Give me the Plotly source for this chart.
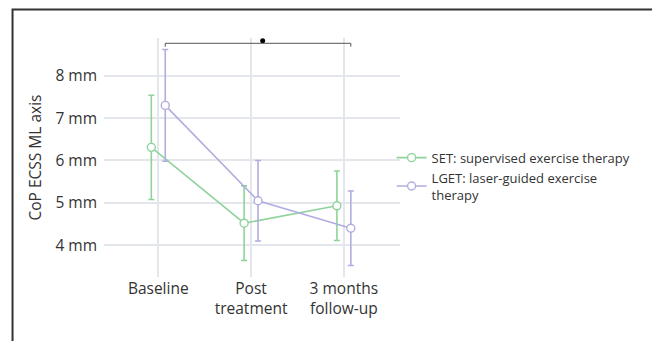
import plotly.graph_objects as go

categories = ["Baseline", "Post<br>treatment", "3 months<br>follow-up"]
set_mean = [6.31, 4.52, 4.93]
set_err = [1.23, 0.88, 0.82]
lget_mean = [7.30, 5.05, 4.40]
lget_err = [1.32, 0.95, 0.88]
y_tickvals = [4, 5, 6, 7, 8]
y_ticktext = ["4 mm", "5 mm", "6 mm", "7 mm", "8 mm"]
sig_level = 8.765
sig_dot_level = 8.825

GREEN = "#8fd39b"
PURPLE = "#b1addf"
TXT = "#333333"
FONT = "Open Sans"

idx = list(range(len(categories)))
off = 0.075
x_set = [i - off for i in idx]
x_lget = [i + off for i in idx]

fig = go.Figure()
fig.add_trace(go.Scatter(
    x=x_set, y=set_mean, mode="lines+markers",
    name="SET: supervised exercise therapy",
    line=dict(color=GREEN, width=1.6),
    marker=dict(symbol="circle", size=8, color="white", line=dict(color=GREEN, width=1.4)),
    error_y=dict(type="data", array=set_err, color=GREEN, thickness=1.6, width=3),
))
fig.add_trace(go.Scatter(
    x=x_lget, y=lget_mean, mode="lines+markers",
    name="LGET: laser-guided exercise<br>therapy",
    line=dict(color=PURPLE, width=1.6),
    marker=dict(symbol="circle", size=8, color="white", line=dict(color=PURPLE, width=1.4)),
    error_y=dict(type="data", array=lget_err, color=PURPLE, thickness=1.6, width=3),
))

# significance bracket between LGET baseline and LGET 3 months
bx0, bx1 = x_lget[0], x_lget[-1]
fig.add_shape(type="path",
              path=f"M {bx0},{sig_level-0.08} L {bx0},{sig_level} L {bx1},{sig_level} L {bx1},{sig_level-0.08}",
              xref="x", yref="y", line=dict(color="#555555", width=1))
fig.add_trace(go.Scatter(
    x=[(bx0 + bx1) / 2 + 0.05], y=[sig_dot_level], mode="markers",
    marker=dict(color="#000000", size=5), showlegend=False, hoverinfo="skip",
))

# outer frame
fig.add_shape(type="path", xref="paper", yref="paper",
              path="M -0.309,-1 L -0.309,1.119 L 2,1.119",
              line=dict(color="#333333", width=2))

fig.update_layout(
    width=652, height=333,
    margin=dict(l=96, r=260, t=30, b=64, pad=0),
    paper_bgcolor="white", plot_bgcolor="white",
    font=dict(family=FONT, size=15, color=TXT),
    showlegend=True,
    legend=dict(x=0.9716, y=0.562, xanchor="left", yanchor="top",
                font=dict(family=FONT, size=13, color=TXT),
                bgcolor="rgba(0,0,0,0)", itemwidth=30, tracegroupgap=0),
    xaxis=dict(tickmode="array", tickvals=idx, ticktext=categories,
               range=[-0.585, 2.605], showgrid=True, gridcolor="#e3e6ea", gridwidth=1.5,
               zeroline=False, showline=False, ticks="", tickfont=dict(size=15.5)),
    yaxis=dict(tickmode="array", tickvals=y_tickvals, ticktext=y_ticktext,
               range=[3.25, 8.89], showgrid=True, gridcolor="#e3e6ea", gridwidth=1.5,
               zeroline=False, showline=False, ticks="", ticklabelstandoff=6,
               title=dict(text="CoP ECSS ML axis", font=dict(size=15.5), standoff=9),
               tickfont=dict(size=15.5)),
)

fig.write_html("out.html")
